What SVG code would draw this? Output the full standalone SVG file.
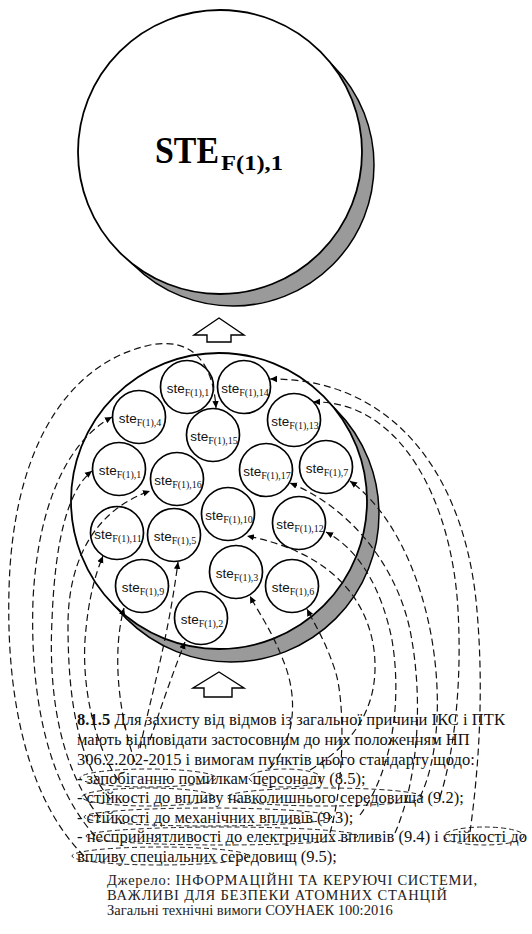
<svg xmlns="http://www.w3.org/2000/svg" width="532" height="934" viewBox="0 0 532 934">
  <style>
    .shadow { fill: #9a9a9a; stroke: #000; stroke-width: 1.5; }
    .disc { fill: #fff; stroke: #000; stroke-width: 1.8; }
    .node circle { fill: #fff; stroke: #000; stroke-width: 1.7; }
    .lbl { font-family: "Liberation Sans", Arial, sans-serif; font-size: 13.5px; fill: #111; }
    .sub { font-family: "Liberation Serif", "Times New Roman", serif; font-size: 10px; }
    .blk { fill: #fff; stroke: #000; stroke-width: 1.4; stroke-linejoin: miter; }
    .dash { fill: none; stroke: #111; stroke-width: 1.2; stroke-dasharray: 7 4; }
    .ring { fill: none; stroke: #222; stroke-width: 1; stroke-dasharray: 5 3; }
    .body { font-family: "Liberation Serif", "Times New Roman", serif; font-size: 16.5px; fill: #111; }
    .src { font-family: "Liberation Serif", "Times New Roman", serif; font-size: 14.5px; fill: #222; }
  </style>
  <defs>
    <marker id="tip" markerUnits="userSpaceOnUse" markerWidth="8" markerHeight="8" refX="7" refY="4" orient="auto">
      <path d="M0,0.8 L7,4 L0,7.2 Z" fill="#000"/>
    </marker>
  </defs>

  <rect width="532" height="934" fill="#fff"/>

  <!-- upper system disc -->
  <g id="STE_F1_1">
    <circle class="shadow" cx="233" cy="165" r="141"/>
    <circle class="disc" cx="220" cy="152" r="142"/>
    <text font-family="Liberation Serif, Times New Roman, serif" font-weight="bold" fill="#000">
      <tspan x="155" y="163" font-size="38" textLength="64" lengthAdjust="spacingAndGlyphs">STE</tspan><tspan x="221" y="170" font-size="21" textLength="62" lengthAdjust="spacingAndGlyphs">F(1),1</tspan>
    </text>
  </g>

  <!-- block arrows -->
  <g id="arrow_up_top">
    <path class="blk" d="M219,318 L244,335 L231,335 L231,342 L207,342 L207,335 L194,335 Z"/>
  </g>
  <g id="arrow_up_bottom">
    <path class="blk" d="M219,672 L244,688 L232,688 L232,697 L204,697 L204,688 L193,688 Z"/>
  </g>

  <!-- lower container disc -->
  <g id="container">
    <circle class="shadow" cx="231" cy="514" r="148"/>
    <circle class="disc" cx="219" cy="501" r="148"/>
  </g>

  <!-- component nodes -->
  <g id="ste_1a" class="node"><circle cx="187" cy="387" r="26.5"/><text class="lbl" x="188" y="393" text-anchor="middle">ste<tspan class="sub" dy="3">F(1),1</tspan></text></g>
  <g id="ste_14" class="node"><circle cx="244" cy="387" r="26.5"/><text class="lbl" x="245" y="393" text-anchor="middle">ste<tspan class="sub" dy="3">F(1),14</tspan></text></g>
  <g id="ste_4" class="node"><circle cx="139" cy="417" r="26.5"/><text class="lbl" x="140" y="423" text-anchor="middle">ste<tspan class="sub" dy="3">F(1),4</tspan></text></g>
  <g id="ste_15" class="node"><circle cx="213" cy="435" r="26.5"/><text class="lbl" x="214" y="441" text-anchor="middle">ste<tspan class="sub" dy="3">F(1),15</tspan></text></g>
  <g id="ste_13" class="node"><circle cx="294" cy="420" r="26.5"/><text class="lbl" x="295" y="426" text-anchor="middle">ste<tspan class="sub" dy="3">F(1),13</tspan></text></g>
  <g id="ste_1b" class="node"><circle cx="119" cy="469" r="26.5"/><text class="lbl" x="120" y="475" text-anchor="middle">ste<tspan class="sub" dy="3">F(1),1</tspan></text></g>
  <g id="ste_16" class="node"><circle cx="177" cy="479" r="26.5"/><text class="lbl" x="178" y="485" text-anchor="middle">ste<tspan class="sub" dy="3">F(1),16</tspan></text></g>
  <g id="ste_17" class="node"><circle cx="266" cy="470" r="26.5"/><text class="lbl" x="267" y="476" text-anchor="middle">ste<tspan class="sub" dy="3">F(1),17</tspan></text></g>
  <g id="ste_7" class="node"><circle cx="326" cy="467" r="26.5"/><text class="lbl" x="327" y="473" text-anchor="middle">ste<tspan class="sub" dy="3">F(1),7</tspan></text></g>
  <g id="ste_10" class="node"><circle cx="228" cy="514" r="26.5"/><text class="lbl" x="229" y="520" text-anchor="middle">ste<tspan class="sub" dy="3">F(1),10</tspan></text></g>
  <g id="ste_12" class="node"><circle cx="299" cy="523" r="26.5"/><text class="lbl" x="300" y="529" text-anchor="middle">ste<tspan class="sub" dy="3">F(1),12</tspan></text></g>
  <g id="ste_11" class="node"><circle cx="117" cy="533" r="26.5"/><text class="lbl" x="118" y="539" text-anchor="middle">ste<tspan class="sub" dy="3">F(1),11</tspan></text></g>
  <g id="ste_5" class="node"><circle cx="174" cy="535" r="26.5"/><text class="lbl" x="175" y="541" text-anchor="middle">ste<tspan class="sub" dy="3">F(1),5</tspan></text></g>
  <g id="ste_9" class="node"><circle cx="142" cy="586" r="26.5"/><text class="lbl" x="143" y="592" text-anchor="middle">ste<tspan class="sub" dy="3">F(1),9</tspan></text></g>
  <g id="ste_3" class="node"><circle cx="236" cy="572" r="26.5"/><text class="lbl" x="237" y="578" text-anchor="middle">ste<tspan class="sub" dy="3">F(1),3</tspan></text></g>
  <g id="ste_6" class="node"><circle cx="292" cy="586" r="26.5"/><text class="lbl" x="293" y="592" text-anchor="middle">ste<tspan class="sub" dy="3">F(1),6</tspan></text></g>
  <g id="ste_2" class="node"><circle cx="201" cy="618" r="26.5"/><text class="lbl" x="202" y="624" text-anchor="middle">ste<tspan class="sub" dy="3">F(1),2</tspan></text></g>

  <!-- requirement text -->
  <g id="requirements">
    <text class="body" x="77" y="725" textLength="428" lengthAdjust="spacing"><tspan font-weight="bold">8.1.5</tspan> Для захисту від відмов із загальної причини ІКС і ПТК</text>
    <text class="body" x="77" y="745">мають відповідати застосовним до них положенням НП</text>
    <text class="body" x="77" y="765">306.2.202-2015 і вимогам пунктів цього стандарту щодо:</text>
    <text class="body" x="77" y="784">- запобіганню помилкам персоналу (8.5);</text>
    <text class="body" x="77" y="803">- стійкості до впливу навколишнього середовища (9.2);</text>
    <text class="body" x="77" y="823">- стійкості до механічних впливів (9.3);</text>
    <text class="body" x="77" y="842" textLength="450" lengthAdjust="spacingAndGlyphs">- несприйнятливості до електричних впливів (9.4) і стійкості до</text>
    <text class="body" x="77" y="862">впливу спеціальних середовищ (9.5);</text>
  </g>

  <!-- dashed outlines round the cited phrases -->
  <g id="phrase_marks">
    <ellipse class="ring" cx="148" cy="778" rx="68" ry="9"/>
    <ellipse class="ring" cx="285" cy="778" rx="36" ry="9"/>
    <ellipse class="ring" cx="148" cy="797" rx="66" ry="9"/>
    <ellipse class="ring" cx="325" cy="797" rx="98" ry="9"/>
    <ellipse class="ring" cx="208" cy="817" rx="124" ry="9"/>
    <ellipse class="ring" cx="222" cy="836" rx="136" ry="9"/>
    <ellipse class="ring" cx="484" cy="836" rx="40" ry="9"/>
    <ellipse class="ring" cx="160" cy="856" rx="88" ry="9"/>
  </g>

  <!-- dependency connectors: phrase to component -->
  <g id="connectors">
    <!-- left side -->
    <path class="dash" marker-end="url(#tip)" d="M84,856 C28,800 6,700 9,590 C12,460 60,365 150,345 C192,337 213,362 216,408"/>
    <path class="dash" marker-end="url(#tip)" d="M95,836 C45,780 30,690 33,600 C38,500 70,440 112,417"/>
    <path class="dash" marker-end="url(#tip)" d="M100,818 C62,770 48,700 52,620 C55,540 68,490 92,471"/>
    <path class="dash" marker-end="url(#tip)" d="M110,799 C78,760 68,700 68,625 C68,560 95,510 150,491"/>
    <path class="dash" marker-end="url(#tip)" d="M118,780 C95,745 82,690 85,640 C88,600 95,575 103,556"/>
    <path class="dash" marker-end="url(#tip)" d="M135,762 C122,725 110,660 124,608"/>
    <path class="dash" marker-end="url(#tip)" d="M140,748 C150,700 168,640 178,562"/>
    <path class="dash" marker-end="url(#tip)" d="M150,740 C160,710 172,675 185,642"/>
    <!-- right side -->
    <path class="dash" marker-end="url(#tip)" d="M470,832 C480,760 484,680 476,600 C462,470 390,378 270,379"/>
    <path class="dash" marker-end="url(#tip)" d="M440,797 C455,750 462,680 458,610 C452,500 400,400 313,402"/>
    <path class="dash" marker-end="url(#tip)" d="M420,797 C438,760 442,700 432,640 C420,570 390,510 350,481"/>
    <path class="dash" marker-end="url(#tip)" d="M395,833 C418,780 424,700 410,630 C395,560 345,505 290,483"/>
    <path class="dash" marker-end="url(#tip)" d="M360,815 C393,770 402,700 392,640 C382,590 360,550 326,532"/>
    <path class="dash" marker-end="url(#tip)" d="M310,770 C360,740 380,700 374,650 C366,590 320,550 247,536"/>
    <path class="dash" marker-end="url(#tip)" d="M330,833 C345,780 345,700 335,670 C325,640 315,625 307,609"/>
    <path class="dash" marker-end="url(#tip)" d="M270,768 C295,740 298,700 285,665 C272,630 258,612 250,596"/>
  </g>

  <!-- source note -->
  <g id="source">
    <text class="src" x="107" y="885" textLength="370" lengthAdjust="spacing">Джерело: ІНФОРМАЦІЙНІ ТА КЕРУЮЧІ СИСТЕМИ,</text>
    <text class="src" x="107" y="900" textLength="340" lengthAdjust="spacing">ВАЖЛИВІ ДЛЯ БЕЗПЕКИ АТОМНИХ СТАНЦІЙ</text>
    <text class="src" x="107" y="915">Загальні технічні вимоги СОУНАЕК 100:2016</text>
  </g>
</svg>
